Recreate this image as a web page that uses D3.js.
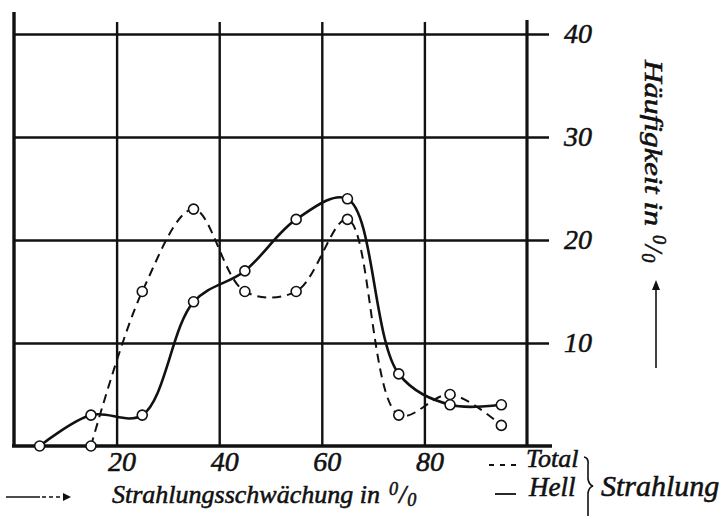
<!DOCTYPE html>
<html>
<head>
<meta charset="utf-8">
<script src="https://cdn.jsdelivr.net/npm/d3@7"></script>
<style>
  body { margin: 0; background: #fff; }
  svg { display: block; }
  text { font-family: "Liberation Serif", serif; font-style: italic; fill: #111;
         stroke: #111; stroke-width: 0.55px; }
</style>
</head>
<body>
<svg width="727" height="521"></svg>
<script>
// Strahlungsschwaechung in % (class centres)
var xTotal = [15, 25, 35, 45, 55, 65, 75, 85, 95];
var total  = [0, 15, 23, 15, 15, 22, 3, 5, 2];
var xHell  = [5, 15, 25, 35, 45, 55, 65, 75, 85, 95];
var hell   = [0, 3, 3, 14, 17, 22, 24, 7, 4, 4];
var xTicks = [20, 40, 60, 80];
var yTicks = [10, 20, 30, 40];

var svg = d3.select("svg");
var ink = "#111";

var x = d3.scaleLinear().domain([0, 100]).range([14, 527]);
var y = d3.scaleLinear().domain([0, 40]).range([446, 34]);

// vertical grid lines (run a bit above the 40 line)
svg.append("g")
    .attr("transform", "translate(0,446)")
    .call(d3.axisBottom(x).tickValues(xTicks).tickSize(-424).tickFormat(""))
    .call(function(g) { g.select(".domain").remove(); })
    .selectAll("line").attr("stroke", ink).attr("stroke-width", 2.4);

// horizontal grid lines, running past the right axis as ticks
svg.append("g")
    .attr("transform", "translate(549,0)")
    .call(d3.axisLeft(y).tickValues(yTicks).tickSize(535).tickFormat(""))
    .call(function(g) { g.select(".domain").remove(); })
    .selectAll("line").attr("stroke", ink).attr("stroke-width", 2.4);

// y labels on the right
svg.append("g")
    .attr("transform", "translate(527,0)")
    .call(d3.axisRight(y).tickValues(yTicks).tickSize(0).tickPadding(37))
    .call(function(g) { g.select(".domain").remove(); })
    .selectAll("text")
    .style("font-size", "28px");

// x labels
svg.append("g")
    .attr("transform", "translate(5,446)")
    .call(d3.axisBottom(x).tickValues(xTicks).tickSize(0).tickPadding(5))
    .call(function(g) { g.select(".domain").remove(); })
    .selectAll("text")
    .style("font-size", "28px");

// frame: left border, right axis, bottom line
svg.append("line").attr("x1", x(0)).attr("x2", x(0)).attr("y1", 12).attr("y2", 447)
    .attr("stroke", ink).attr("stroke-width", 3.4);
svg.append("line").attr("x1", x(100)).attr("x2", x(100)).attr("y1", 20).attr("y2", 447)
    .attr("stroke", ink).attr("stroke-width", 3.2);
svg.append("line").attr("x1", 12).attr("x2", 552).attr("y1", y(0)).attr("y2", y(0))
    .attr("stroke", ink).attr("stroke-width", 3.4);

var line = d3.line().curve(d3.curveCatmullRom.alpha(0.5));

var totalPts = xTotal.map(function(v, i) { return [x(v), y(total[i])]; });
var hellPts = xHell.map(function(v, i) { return [x(v), y(hell[i])]; });

svg.append("path").attr("d", line(totalPts))
    .attr("fill", "none").attr("stroke", ink).attr("stroke-width", 2)
    .attr("stroke-dasharray", "9,6");
svg.append("path").attr("d", line(hellPts))
    .attr("fill", "none").attr("stroke", ink).attr("stroke-width", 2.6);

svg.selectAll(".pt")
    .data(totalPts.concat(hellPts))
    .enter().append("circle")
    .attr("class", "pt")
    .attr("cx", function(d) { return d[0]; })
    .attr("cy", function(d) { return d[1]; })
    .attr("r", 5)
    .attr("fill", "#fff").attr("stroke", ink).attr("stroke-width", 1.6);

// percent sign in the old style: superscript 0 / subscript 0
function pct(t, size) {
  t.append("tspan").attr("dx", 9).attr("dy", -size * 0.3).style("font-size", size * 0.7 + "px").text("0");
  t.append("tspan").attr("dx", 1).attr("dy", size * 0.3).text("/");
  t.append("tspan").attr("dx", 1).attr("dy", size * 0.12).style("font-size", size * 0.7 + "px").text("0");
}

// x title with arrow
svg.append("line").attr("x1", 6).attr("x2", 40).attr("y1", 497).attr("y2", 497)
    .attr("stroke", ink).attr("stroke-width", 1.6);
svg.append("line").attr("x1", 42).attr("x2", 64).attr("y1", 497).attr("y2", 497)
    .attr("stroke", ink).attr("stroke-width", 1.6).attr("stroke-dasharray", "4,3");
svg.append("path").attr("d", "M63,493 L71,497 L63,501 Z").attr("fill", ink);
var xt = svg.append("text").attr("x", 112).attr("y", 503).style("font-size", "26px");
xt.append("tspan").text("Strahlungsschwächung in");
pct(xt, 26);

// legend
svg.append("text").attr("x", 526).attr("y", 467).style("font-size", "26px").text("Total");
svg.append("text").attr("x", 529).attr("y", 496).style("font-size", "27px").text("Hell");
svg.append("line").attr("x1", 489).attr("x2", 516).attr("y1", 465).attr("y2", 465)
    .attr("stroke", ink).attr("stroke-width", 2).attr("stroke-dasharray", "5,6");
svg.append("line").attr("x1", 495).attr("x2", 516).attr("y1", 494).attr("y2", 494)
    .attr("stroke", ink).attr("stroke-width", 1.8);
svg.append("path")
    .attr("d", "M584,457 Q589,458 588,465 L588,479 Q589,485 593,486 Q589,487 588,493 L588,516")
    .attr("fill", "none").attr("stroke", ink).attr("stroke-width", 1.6);
svg.append("text").attr("x", 601).attr("y", 496).style("font-size", "30px").text("Strahlung");

// y title, reading downward, with arrow
var yt = svg.append("text")
    .attr("transform", "translate(645,60) rotate(90)")
    .style("font-size", "26px");
yt.append("tspan").attr("textLength", 166).attr("lengthAdjust", "spacingAndGlyphs")
    .text("Häufigkeit in");
pct(yt, 26);
svg.append("line").attr("x1", 656).attr("x2", 656).attr("y1", 368).attr("y2", 288)
    .attr("stroke", ink).attr("stroke-width", 1.6);
svg.append("path").attr("d", "M652,290 L656,280 L660,290 Z").attr("fill", ink);
</script>
</body>
</html>
